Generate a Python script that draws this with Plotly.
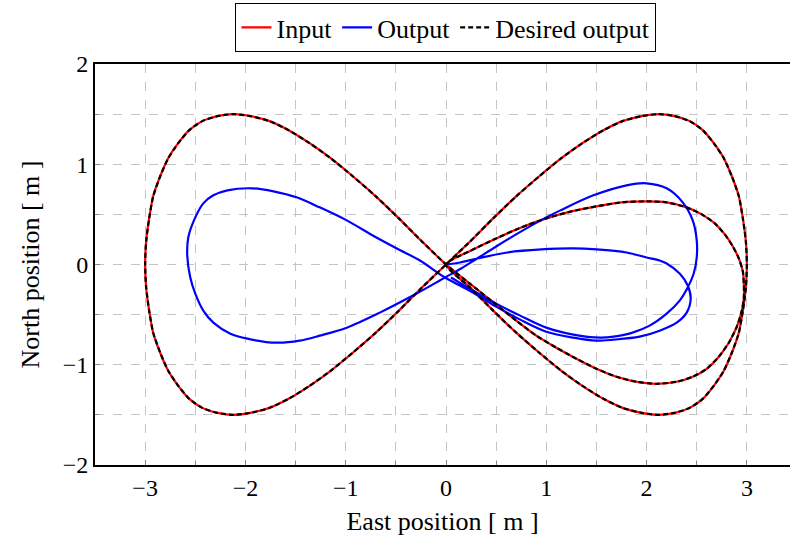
import plotly.graph_objects as go

# Input trajectory: start-up loop on the east side, then the full figure-eight
inner_east = [0.0, 0.25, 0.5, 0.75, 1.0, 1.25, 1.5, 1.75, 2.0, 2.2, 2.4, 2.55, 2.68, 2.78, 2.86,
              2.92, 2.96, 2.97, 2.97, 2.95, 2.9, 2.82, 2.72, 2.6, 2.46, 2.3, 2.1, 1.9, 1.7, 1.5,
              1.3, 1.1, 0.9, 0.7, 0.5, 0.25, 0.0]
inner_north = [0.0, 0.14, 0.26, 0.37, 0.46, 0.53, 0.58, 0.62, 0.63, 0.62, 0.57, 0.5, 0.41, 0.3, 0.18,
               0.06, -0.07, -0.2, -0.33, -0.46, -0.62, -0.78, -0.92, -1.04, -1.12, -1.17, -1.19, -1.17, -1.12, -1.04,
               -0.94, -0.83, -0.71, -0.56, -0.4, -0.2, 0.0]

west_lobe_east = [0.0, -0.24, -0.47, -0.7, -0.93, -1.15, -1.36, -1.57, -1.76, -1.95, -2.12,
                  -2.28, -2.43, -2.56, -2.67, -2.77, -2.85, -2.92, -2.96, -2.99, -3.0,
                  -2.99, -2.96, -2.92, -2.85, -2.77, -2.67, -2.56, -2.43, -2.28, -2.12,
                  -1.95, -1.76, -1.57, -1.36, -1.15, -0.93, -0.7, -0.47, -0.24, 0.0]
west_lobe_north = [0.0, 0.23, 0.46, 0.68, 0.88, 1.06, 1.21, 1.34, 1.43, 1.48, 1.5,
                   1.48, 1.43, 1.34, 1.21, 1.06, 0.88, 0.68, 0.46, 0.23, 0.0,
                   -0.23, -0.46, -0.68, -0.88, -1.06, -1.21, -1.34, -1.43, -1.48, -1.5,
                   -1.48, -1.43, -1.34, -1.21, -1.06, -0.88, -0.68, -0.46, -0.23, 0.0]

east_lobe_east = [0.0, 0.24, 0.47, 0.7, 0.93, 1.15, 1.36, 1.57, 1.76, 1.95, 2.12,
                  2.28, 2.43, 2.56, 2.67, 2.77, 2.85, 2.92, 2.96, 2.99, 3.0,
                  2.99, 2.96, 2.92, 2.85, 2.77, 2.67, 2.56, 2.43, 2.28, 2.12,
                  1.95, 1.76, 1.57, 1.36, 1.15, 0.93, 0.7, 0.47, 0.24, 0.0]
east_lobe_north = west_lobe_north

input_east = inner_east + west_lobe_east[1:] + east_lobe_east[1:]
input_north = inner_north + west_lobe_north[1:] + east_lobe_north[1:]

# Desired output follows the input reference exactly
desired_east = list(input_east)
desired_north = list(input_north)

# Measured output trajectory
output_east = [0.0, 0.14, 0.31, 0.61, 0.95, 1.27, 1.5, 1.8, 2.0, 2.13, 2.2, 2.33, 2.41, 2.44, 2.4,
               2.3, 2.13, 1.93, 1.67, 1.5, 1.27, 1.0, 0.74, 0.5, 0.25, -0.01,
               -0.26, -0.49, -0.73, -0.99, -1.26, -1.49, -1.72, -1.93, -2.18, -2.32, -2.42, -2.5,
               -2.57, -2.58, -2.55, -2.5, -2.42, -2.32, -2.15, -1.98, -1.69, -1.46, -1.26, -0.99,
               -0.66, -0.33, -0.01, 0.15, 0.31, 0.5, 0.75, 1.0, 1.14, 1.47, 1.8, 2.0, 2.2, 2.36,
               2.46, 2.5, 2.5, 2.47, 2.41, 2.33, 2.2, 2.03, 1.86, 1.67, 1.54, 1.27, 1.0, 0.74,
               0.5, 0.25, 0.05]
output_north = [0.0, 0.02, 0.06, 0.12, 0.15, 0.16, 0.15, 0.12, 0.07, 0.04, 0.01, -0.09, -0.21, -0.34, -0.48,
                -0.58, -0.66, -0.72, -0.75, -0.76, -0.73, -0.67, -0.55, -0.42, -0.27, -0.13,
                0.04, 0.16, 0.29, 0.44, 0.57, 0.67, 0.73, 0.76, 0.74, 0.69, 0.61, 0.47,
                0.27, 0.09, -0.13, -0.29, -0.46, -0.58, -0.69, -0.74, -0.78, -0.76, -0.71, -0.63,
                -0.48, -0.31, -0.13, -0.04, 0.06, 0.18, 0.33, 0.47, 0.54, 0.69, 0.79, 0.81, 0.76, 0.62,
                0.44, 0.24, 0.07, -0.09, -0.23, -0.36, -0.49, -0.61, -0.68, -0.72, -0.73, -0.7, -0.63, -0.51,
                -0.39, -0.25, -0.13]

serif = "Liberation Serif, DejaVu Serif, serif"

fig = go.Figure()
fig.add_trace(go.Scatter(x=input_east, y=input_north, mode="lines", name="Input",
                         line=dict(color="#ff0000", width=2.2, shape="spline", smoothing=0.6)))
fig.add_trace(go.Scatter(x=output_east, y=output_north, mode="lines", name="Output",
                         line=dict(color="#0000ff", width=2.2, shape="spline", smoothing=0.9)))
fig.add_trace(go.Scatter(x=desired_east, y=desired_north, mode="lines", name="Desired output",
                         line=dict(color="black", width=2.2, dash="5px,3px", shape="spline", smoothing=0.6)))

axis_common = dict(
    showline=True, linecolor="black", linewidth=1.8,
    showgrid=True, gridcolor="#c4c4c4", griddash="dash", gridwidth=1,
    ticks="inside", ticklen=5, tickcolor="#888888",
    zeroline=False,
    tickfont=dict(family=serif, size=24, color="black"),
    minor=dict(dtick=0.5, showgrid=True, gridcolor="#c4c4c4", griddash="dash", gridwidth=1,
               ticks="inside", ticklen=4, tickcolor="#888888"),
)

fig.update_xaxes(range=[-3.5, 3.43], tickmode="array", tickvals=[-3, -2, -1, 0, 1, 2, 3],
                 mirror=True,
                 title=dict(text="East position [ m ]", font=dict(family=serif, size=26, color="black"),
                            standoff=12),
                 **axis_common)
fig.update_yaxes(range=[-2, 2], tickmode="array", tickvals=[-2, -1, 0, 1, 2],
                 mirror=False,
                 title=dict(text="North position [ m ]", font=dict(family=serif, size=26, color="black"),
                            standoff=16),
                 **axis_common)

fig.update_layout(
    width=790, height=537,
    margin=dict(l=95, r=0, t=64, b=72),
    plot_bgcolor="white", paper_bgcolor="white",
    legend=dict(orientation="h", x=0.505, xanchor="center", y=1.152, yanchor="top",
                bordercolor="black", borderwidth=1, bgcolor="white",
                font=dict(family=serif, size=26, color="black"),
                itemwidth=30, tracegroupgap=0),
)

fig.write_html("out.html")
